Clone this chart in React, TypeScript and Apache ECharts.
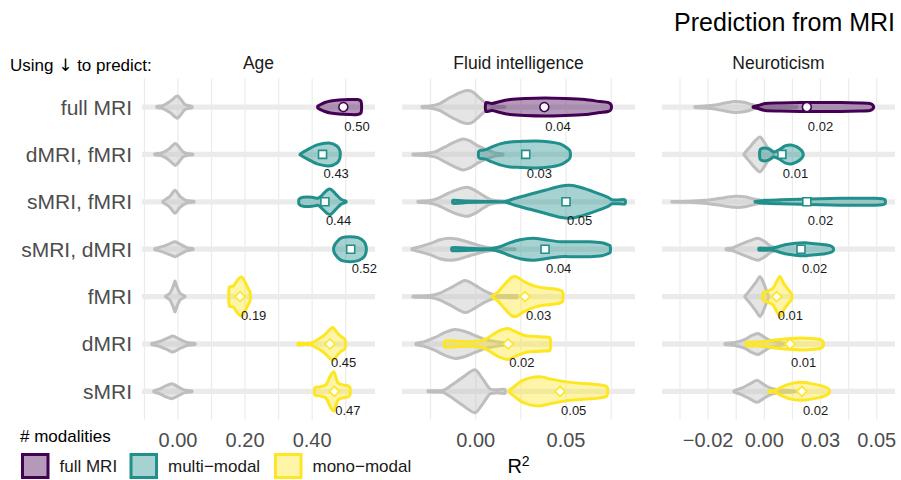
import React, { useEffect, useRef } from "react";
import * as echarts from "echarts";

// ---------------- data ----------------
const rows = ["full MRI", "dMRI, fMRI", "sMRI, fMRI", "sMRI, dMRI", "fMRI", "dMRI", "sMRI"];
const rowGroup = [0, 1, 1, 1, 2, 2, 2];
const groupNames = ["full MRI", "multi\u2212modal", "mono\u2212modal"];
const groupColors = ["#440154", "#21908C", "#FDE725"];
const groupFills = ["rgba(68,1,84,0.4)", "rgba(33,144,140,0.4)", "rgba(253,231,37,0.4)"];
const groupSymbols = ["circle", "rect", "diamond"];
const groupSymbolSizes = [9, 8, 10];
const targets = ["Age", "Fluid intelligence", "Neuroticism"];

// Profiles: [R² value, outer half-width of the violin outline]
// Age
const ageRange = [-0.1073, 0.5874];
const ageGridValues = [-0.1, 0, 0.1, 0.2, 0.3, 0.4, 0.5];
const ageTicks = [0, 0.2, 0.4];
const ageTickLabels = ["0.00", "0.20", "0.40"];
const ageMeans = [0.493, 0.431, 0.438, 0.515, 0.185, 0.453, 0.466];
const ageMeanLabels = ["0.50", "0.43", "0.44", "0.52", "0.19", "0.45", "0.47"];
const ageNull = [
  [[-0.063, 2], [-0.045, 3], [-0.024, 7], [-0.006, 12], [0, 12.5], [0.009, 9], [0.021, 4], [0.042, 2]],
  [[-0.069, 2], [-0.048, 3], [-0.027, 7], [-0.008, 12.5], [0.003, 9], [0.015, 4], [0.027, 2.5], [0.044, 1.8]],
  [[-0.045, 2], [-0.024, 7], [-0.009, 13], [0.006, 7], [0.024, 3], [0.048, 1.8]],
  [[-0.069, 2], [-0.048, 4], [-0.024, 7], [-0.009, 9], [0.009, 6], [0.027, 3], [0.045, 2]],
  [[-0.037, 1.8], [-0.024, 5], [-0.014, 12], [-0.009, 17], [-0.004, 12], [0.006, 5], [0.021, 1.8]],
  [[-0.078, 2], [-0.054, 4], [-0.033, 7], [-0.015, 9.5], [0.006, 6], [0.027, 3], [0.051, 2]],
  [[-0.072, 2], [-0.054, 4], [-0.036, 7], [-0.018, 9], [0, 6], [0.018, 3], [0.042, 2]],
];
const agePred = [
  [[0.417, 2.5], [0.425, 4], [0.438, 6], [0.455, 7.5], [0.48, 8.5], [0.51, 9], [0.535, 9], [0.546, 7]],
  [[0.364, 1.8], [0.385, 6], [0.415, 11], [0.45, 13], [0.474, 10], [0.483, 5]],
  [[0.361, 4], [0.373, 6], [0.4, 6], [0.417, 5], [0.429, 8], [0.444, 13], [0.456, 14], [0.471, 9], [0.486, 4], [0.501, 2]],
  [[0.465, 4], [0.474, 9], [0.489, 13], [0.513, 14], [0.537, 13], [0.555, 9], [0.561, 4]],
  [[0.153, 11], [0.165, 12], [0.18, 19], [0.19, 21], [0.2, 16], [0.21, 9], [0.215, 6]],
  [[0.358, 2.5], [0.379, 2], [0.397, 2.5], [0.417, 6], [0.435, 10], [0.453, 16], [0.462, 18], [0.474, 13], [0.486, 9], [0.498, 6]],
  [[0.408, 5], [0.423, 6], [0.441, 8], [0.456, 18], [0.465, 21], [0.477, 10], [0.492, 8], [0.507, 7], [0.513, 5]],
];

// Fluid intelligence
const fluidRange = [-0.0408, 0.0882];
const fluidGridValues = [-0.025, 0, 0.025, 0.05, 0.075];
const fluidTicks = [0, 0.05];
const fluidTickLabels = ["0.00", "0.05"];
const fluidMeans = [0.038, 0.0277, 0.05, 0.0384, 0.0273, 0.018, 0.0467];
const fluidMeanLabels = ["0.04", "0.03", "0.05", "0.04", "0.03", "0.02", "0.05"];
const fluidNull = [
  [[-0.0297, 2], [-0.0253, 2.5], [-0.0198, 5], [-0.0142, 11], [-0.0087, 16], [-0.0048, 18], [-0.002, 17], [0.0013, 12], [0.0051, 6], [0.009, 3], [0.0135, 2], [0.0162, 1.8]],
  [[-0.0347, 2], [-0.0281, 2.5], [-0.0225, 4], [-0.017, 9], [-0.0115, 14], [-0.007, 17], [-0.0032, 15], [0.0013, 10], [0.0063, 6], [0.0107, 3], [0.0151, 2]],
  [[-0.0319, 2], [-0.0264, 2.5], [-0.0209, 5], [-0.0153, 10], [-0.0098, 14], [-0.0048, 16], [-0.0004, 13], [0.004, 8], [0.0079, 4], [0.0123, 2.5], [0.0179, 2]],
  [[-0.0353, 2], [-0.0308, 4], [-0.0253, 7], [-0.0198, 11], [-0.0142, 12.5], [-0.0087, 11], [-0.0032, 8], [0.0024, 5], [0.0079, 3], [0.0135, 2], [0.0218, 1.8]],
  [[-0.0347, 2], [-0.0253, 2.5], [-0.0198, 5], [-0.0131, 11], [-0.0059, 17.5], [-0.0004, 13], [0.0051, 7], [0.0107, 3], [0.0162, 2.5], [0.0229, 2.5]],
  [[-0.0331, 2], [-0.0281, 4], [-0.0225, 8], [-0.017, 13], [-0.0115, 16], [-0.0059, 14], [-0.0004, 10], [0.0051, 6], [0.0107, 4], [0.0162, 2.5], [0.0201, 2]],
  [[-0.0264, 2], [-0.0181, 2.5], [-0.0131, 8], [-0.0076, 15], [-0.0004, 23], [0.0035, 15], [0.0079, 4], [0.0118, 3], [0.0151, 3.5], [0.0162, 3.5]],
];
const fluidPred = [
  [[0.0057, 6], [0.009, 5], [0.0135, 7], [0.019, 9], [0.0273, 10], [0.0384, 10.5], [0.0494, 10], [0.0605, 9], [0.0688, 7], [0.0733, 6], [0.0749, 4]],
  [[0.0018, 5], [0.0051, 6], [0.009, 9], [0.0135, 12], [0.019, 14], [0.0245, 14.5], [0.0328, 15], [0.0411, 14], [0.0467, 12], [0.0506, 8], [0.0522, 5]],
  [[-0.0126, 3], [-0.005, 2.3], [0.0079, 1.8], [0.0162, 1.8], [0.0218, 5], [0.0301, 9], [0.0384, 13], [0.0467, 17], [0.0522, 18], [0.0578, 16], [0.0661, 11], [0.0733, 6], [0.0755, 3.5], [0.0799, 3.5], [0.0827, 3.5]],
  [[-0.0131, 3], [-0.0032, 2.5], [0.0079, 2], [0.0135, 4], [0.019, 8], [0.0245, 11], [0.0317, 12.5], [0.0384, 11], [0.0467, 9], [0.055, 9], [0.0633, 9], [0.0699, 8], [0.0733, 6], [0.0744, 5]],
  [[0.009, 1.8], [0.0123, 6], [0.0162, 14], [0.0201, 21], [0.0229, 21], [0.0273, 16], [0.0328, 12], [0.0384, 10], [0.0439, 9], [0.0478, 7], [0.0483, 5]],
  [[-0.017, 4.5], [-0.0087, 4], [-0.0004, 4], [0.0051, 6], [0.0096, 11], [0.0135, 15], [0.0179, 17], [0.0218, 14], [0.0273, 10], [0.0328, 9], [0.0384, 8.5], [0.0411, 8]],
  [[0.0184, 2], [0.0218, 7], [0.0256, 12], [0.0301, 15], [0.0356, 16], [0.0411, 14], [0.0467, 12], [0.055, 10], [0.0633, 9], [0.0688, 8], [0.0727, 6]],
];

// Neuroticism
const neuroRange = [-0.0455, 0.0581];
const neuroGridValues = [-0.0375, -0.025, -0.0125, 0, 0.0125, 0.025, 0.0375, 0.05];
const neuroTicks = [-0.025, 0, 0.025, 0.05];
const neuroTickLabels = ["\u22120.02", "0.00", "0.03", "0.05"];
const neuroMeans = [0.0189, 0.0078, 0.0189, 0.0163, 0.0055, 0.0114, 0.0167];
const neuroMeanLabels = ["0.02", "0.01", "0.02", "0.02", "0.01", "0.01", "0.02"];
const neuroNull = [
  [[-0.0308, 2], [-0.0264, 2.5], [-0.0219, 3.5], [-0.0175, 5.5], [-0.013, 7], [-0.0086, 6], [-0.0055, 4], [-0.0028, 2.5], [0.0048, 2], [0.0145, 1.8]],
  [[-0.009, 2], [-0.0064, 9], [-0.0037, 16], [-0.0019, 19], [-0.0001, 14], [0.0016, 8], [0.0039, 3]],
  [[-0.0411, 1.8], [-0.0331, 2], [-0.0264, 3], [-0.0197, 5], [-0.013, 7], [-0.0086, 6.5], [-0.0041, 4], [0.0003, 2.5], [0.0048, 1.8], [0.007, 1.8]],
  [[-0.017, 2], [-0.0139, 3], [-0.0108, 6], [-0.0064, 10], [-0.0028, 12.5], [0.0003, 9], [0.0025, 5], [0.0056, 2]],
  [[-0.0086, 2], [-0.0064, 8], [-0.0037, 16], [-0.0019, 21.5], [-0.0001, 14], [0.0012, 6], [0.0019, 2]],
  [[-0.0175, 2], [-0.013, 3], [-0.0086, 6], [-0.0055, 10], [-0.0028, 12], [0.0003, 8], [0.0025, 5], [0.0061, 3], [0.0092, 2], [0.0114, 1.8]],
  [[-0.0135, 2], [-0.0099, 5], [-0.0064, 9], [-0.0032, 12.5], [-0.0006, 9], [0.0025, 5], [0.0061, 3], [0.0101, 2.5], [0.0137, 2]],
];
const neuroPred = [
  [[-0.005, 1.8], [-0.0028, 3], [0.0003, 5], [0.007, 5.5], [0.0159, 6], [0.0248, 6], [0.0337, 6], [0.0426, 5.5], [0.047, 5], [0.0484, 3]],
  [[-0.0019, 6], [-0.0001, 8], [0.0021, 7], [0.0043, 4], [0.0065, 6], [0.0092, 10], [0.0119, 11], [0.0145, 9], [0.0163, 6], [0.0172, 3]],
  [[-0.0041, 1.8], [0.0003, 3], [0.007, 3.5], [0.0159, 4], [0.0248, 4.5], [0.0337, 5], [0.0426, 5], [0.0492, 5], [0.0524, 4.5], [0.0537, 3.5]],
  [[-0.0024, 2.5], [0.0003, 2.5], [0.0034, 2.5], [0.0061, 4], [0.0092, 6], [0.0137, 7.5], [0.0181, 8], [0.0226, 7], [0.027, 6], [0.0292, 5], [0.0306, 3]],
  [[-0.0006, 5], [0.0016, 7], [0.0039, 10], [0.0056, 17], [0.007, 21.5], [0.0088, 14], [0.0105, 9], [0.0119, 5], [0.0123, 3]],
  [[-0.0081, 3], [-0.0041, 3.5], [0.0003, 4], [0.0048, 5.5], [0.0092, 6.5], [0.0159, 7.5], [0.0212, 7], [0.0248, 6], [0.0261, 4]],
  [[0.0021, 2.3], [0.0048, 2.5], [0.0079, 6], [0.0114, 9], [0.0159, 10.5], [0.0203, 9.5], [0.0248, 7.5], [0.0274, 5.5], [0.0288, 3.5]],
];

// ---------------- layout ----------------
const FONT = "'Liberation Sans', Arial, Helvetica, sans-serif";
const GRID_LEFT = [142, 402, 662];
const GRID_W = 233;
const GRID_TOP = 78.6;
const GRID_H = 341.2;
const Y_MIN = 0.4;
const Y_MAX = 7.6;
const REF_BAND = 47.4;
const OUTLINE_W = 3;
const NULL_STROKE = "#bebebe";
const NULL_FILL = "rgba(190,190,190,0.4)";
const LEGEND_X = [21, 129.5, 274];

const panels = [
  { name: targets[0], range: ageRange, gridValues: ageGridValues, ticks: ageTicks, tickLabels: ageTickLabels, means: ageMeans, labels: ageMeanLabels, nulls: ageNull, preds: agePred },
  { name: targets[1], range: fluidRange, gridValues: fluidGridValues, ticks: fluidTicks, tickLabels: fluidTickLabels, means: fluidMeans, labels: fluidMeanLabels, nulls: fluidNull, preds: fluidPred },
  { name: targets[2], range: neuroRange, gridValues: neuroGridValues, ticks: neuroTicks, tickLabels: neuroTickLabels, means: neuroMeans, labels: neuroMeanLabels, nulls: neuroNull, preds: neuroPred },
];

function violinRenderer(profiles: number[][][], kind: "null" | "pred") {
  return (params: any, api: any) => {
    const r = api.value(1);
    const prof = profiles[r - 1];
    const band = Math.abs(api.size([0, 1])[1]);
    const k = band / REF_BAND;
    const top: number[][] = [];
    const bot: number[][] = [];
    for (const [v, h] of prof) {
      const p = api.coord([v, r]);
      // profile gives the outer edge of the outline: draw the path half a stroke inside
      const hh = Math.max(0.3, h * k - OUTLINE_W / 2);
      top.push([p[0], p[1] - hh]);
      bot.push([p[0], p[1] + hh]);
    }
    const pts = top.concat(bot.reverse());
    const g = rowGroup[r - 1];
    return {
      type: "polygon",
      shape: { points: pts, smooth: 0.25 },
      style: {
        fill: kind === "null" ? NULL_FILL : groupFills[g],
        stroke: kind === "null" ? NULL_STROKE : groupColors[g],
        lineWidth: OUTLINE_W,
        lineJoin: "round",
      },
    };
  };
}

function buildOption() {
  const grid = panels.map((_, i) => ({ left: GRID_LEFT[i], top: GRID_TOP, width: GRID_W, height: GRID_H }));
  const xAxis = panels.map((p, i) => ({
    gridIndex: i,
    type: "value",
    min: p.range[0],
    max: p.range[1],
    axisLine: { show: false },
    axisTick: { show: false },
    splitLine: { show: false },
    axisLabel: {
      customValues: p.ticks,
      formatter: (val: number) => {
        const j = p.ticks.findIndex((t) => Math.abs(t - val) < 1e-9);
        return j >= 0 ? p.tickLabels[j] : "";
      },
      fontSize: 20,
      color: "#4d4d4d",
      fontFamily: FONT,
      margin: 10,
    },
  }));
  const yAxis = panels.map((_, i) => ({
    gridIndex: i,
    type: "value",
    min: Y_MIN,
    max: Y_MAX,
    inverse: true,
    axisLine: { show: false },
    axisTick: { show: false },
    splitLine: { show: false },
    axisLabel: {
      show: i === 0,
      customValues: rows.map((_, r) => r + 1),
      formatter: (val: number) => rows[Math.round(val) - 1] || "",
      fontSize: 21,
      color: "#4d4d4d",
      fontFamily: FONT,
      margin: 10,
    },
  }));

  const series: any[] = [];
  panels.forEach((p, i) => {
    const common = { xAxisIndex: i, yAxisIndex: i, silent: true, clip: false, encode: { x: 0, y: 1 } };
    series.push({
      ...common,
      type: "custom",
      data: p.gridValues.map((v) => [v, Y_MIN]),
      renderItem: (params: any, api: any) => {
        const v = api.value(0);
        const a = api.coord([v, Y_MIN]);
        const b = api.coord([v, Y_MAX]);
        return { type: "line", shape: { x1: a[0], y1: a[1], x2: b[0], y2: b[1] }, style: { stroke: "#ebebeb", lineWidth: 1.2 } };
      },
      z: 1,
    });
    series.push({
      ...common,
      type: "custom",
      data: rows.map((_, r) => [p.range[0], r + 1]),
      renderItem: (params: any, api: any) => {
        const r = api.value(1);
        const a = api.coord([p.range[0], r]);
        const b = api.coord([p.range[1], r]);
        return { type: "line", shape: { x1: a[0], y1: a[1], x2: b[0], y2: b[1] }, style: { stroke: "#ebebeb", lineWidth: 5.3 } };
      },
      z: 2,
    });
    series.push({
      ...common,
      type: "custom",
      data: rows.map((_, r) => [p.means[r], r + 1]),
      renderItem: violinRenderer(p.nulls, "null"),
      z: 3,
    });
    series.push({
      ...common,
      type: "custom",
      data: rows.map((_, r) => [p.means[r], r + 1]),
      renderItem: violinRenderer(p.preds, "pred"),
      z: 4,
    });
    series.push({
      type: "scatter",
      xAxisIndex: i,
      yAxisIndex: i,
      silent: true,
      z: 5,
      data: rows.map((_, r) => {
        const g = rowGroup[r];
        return {
          value: [p.means[r], r + 1],
          symbol: groupSymbols[g],
          symbolSize: groupSymbolSizes[g],
          itemStyle: { color: "#ffffff", borderColor: groupColors[g], borderWidth: 1.6, opacity: 1 },
        };
      }),
    });
    series.push({
      ...common,
      type: "custom",
      data: rows.map((_, r) => [p.means[r], r + 1]),
      renderItem: (params: any, api: any) => {
        const r = api.value(1);
        const c = api.coord([api.value(0), r]);
        return {
          type: "text",
          x: c[0] + 1,
          y: c[1] + 19,
          style: { text: p.labels[r - 1], fontSize: 13, fontFamily: FONT, fill: "#1a1a1a", align: "left", verticalAlign: "middle" },
        };
      },
      z: 6,
    });
  });

  const graphic: any[] = [
    { type: "text", x: 895, y: 22, style: { text: "Prediction from MRI", fontSize: 25, fontFamily: FONT, fill: "#000", align: "right", verticalAlign: "middle" } },
    {
      type: "text",
      x: 10,
      y: 65,
      style: {
        text: "Using {arr|\u2193} to predict:",
        fontSize: 17,
        fontFamily: FONT,
        fill: "#000",
        align: "left",
        verticalAlign: "middle",
        rich: { arr: { fontSize: 17, fontFamily: "'DejaVu Sans', sans-serif", fill: "#000" } },
      },
    },
    { type: "text", x: 20, y: 436, style: { text: "# modalities", fontSize: 17, fontFamily: FONT, fill: "#000", align: "left", verticalAlign: "middle" } },
    {
      type: "text",
      x: GRID_LEFT[0] + (GRID_LEFT[2] + GRID_W - GRID_LEFT[0]) / 2,
      y: 466,
      style: {
        text: "R{sup|2}",
        fontSize: 20,
        fontFamily: FONT,
        fill: "#000",
        align: "center",
        verticalAlign: "middle",
        rich: { sup: { fontSize: 14, fontFamily: FONT, fill: "#000", verticalAlign: "top", padding: [0, 0, 10, 0] } },
      },
    },
  ];
  panels.forEach((p, i) => {
    graphic.push({ type: "text", x: GRID_LEFT[i] + GRID_W / 2, y: 63, style: { text: p.name, fontSize: 17.5, fontFamily: FONT, fill: "#1a1a1a", align: "center", verticalAlign: "middle" } });
  });
  groupNames.forEach((n, g) => {
    const bx = LEGEND_X[g];
    graphic.push({ type: "rect", shape: { x: bx + 1.5, y: 454.5, width: 25.5, height: 23 }, style: { fill: groupFills[g], stroke: groupColors[g], lineWidth: 3 } });
    graphic.push({ type: "text", x: bx + 38.5, y: 466, style: { text: n, fontSize: 17, fontFamily: FONT, fill: "#1a1a1a", align: "left", verticalAlign: "middle" } });
  });

  return {
    animation: false,
    backgroundColor: "#ffffff",
    grid,
    xAxis,
    yAxis,
    series,
    graphic,
  };
}

export default function App() {
  const ref = useRef<HTMLDivElement>(null);
  useEffect(() => {
    if (!ref.current) return;
    const chart = echarts.init(ref.current, undefined, { renderer: "svg" });
    chart.setOption(buildOption() as any);
    return () => chart.dispose();
  }, []);
  return <div ref={ref} style={{ position: "fixed", left: 0, top: 0, width: 901, height: 480, background: "#fff" }} />;
}
